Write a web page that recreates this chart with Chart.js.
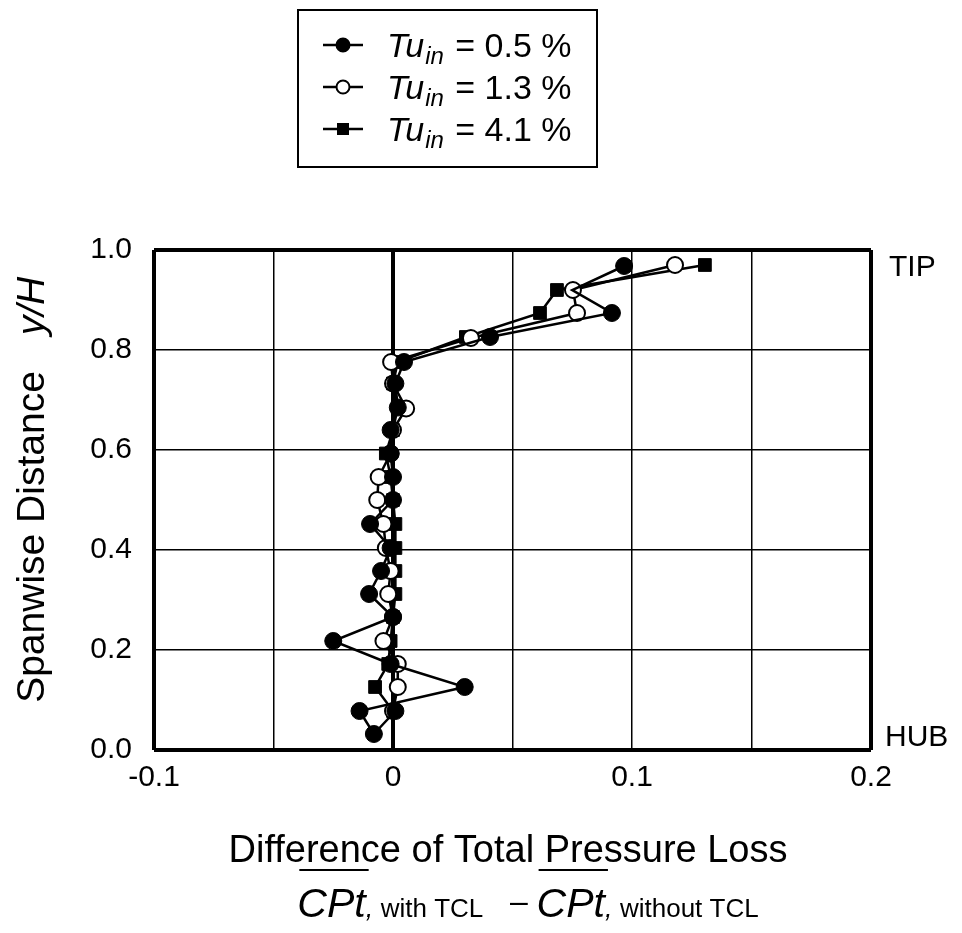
<!DOCTYPE html>
<html>
<head>
<meta charset="utf-8">
<script src="https://cdn.jsdelivr.net/npm/chart.js@4"></script>
<style>
  html, body { margin: 0; padding: 0; background: #fff; }
  #wrap { width: 962px; height: 933px; }
</style>
</head>
<body>
<div id="wrap"><canvas id="lossChart" width="962" height="933"></canvas></div>
<script>
// spanwise position y/H and loss difference for each inlet turbulence level
const spanLow = [0.968, 0.92, 0.874, 0.826, 0.776, 0.733, 0.685, 0.64, 0.593, 0.546, 0.5, 0.452, 0.404, 0.358, 0.312, 0.266, 0.218, 0.172, 0.126, 0.078, 0.032, 0.078];
const lossLow = [0.0967, 0.075, 0.0916, 0.0406, 0.0046, 0.001, 0.002, -0.001, -0.001, 0.0, 0.0, -0.0096, -0.001, -0.005, -0.010, 0.0, -0.025, -0.001, 0.030, -0.014, -0.008, 0.001];

const spanMid = [0.97, 0.92, 0.874, 0.824, 0.776, 0.733, 0.683, 0.64, 0.593, 0.546, 0.5, 0.452, 0.404, 0.358, 0.312, 0.266, 0.218, 0.172, 0.126, 0.078];
const lossMid = [0.118, 0.0753, 0.077, 0.0326, -0.0008, 0.0, 0.0055, 0.0, -0.001, -0.006, -0.0066, -0.004, -0.003, -0.001, -0.002, 0.0, -0.004, 0.002, 0.002, 0.0];

const spanHigh = [0.97, 0.92, 0.874, 0.826, 0.776, 0.733, 0.685, 0.64, 0.593, 0.546, 0.5, 0.452, 0.404, 0.358, 0.312, 0.266, 0.218, 0.172, 0.126, 0.078];
const lossHigh = [0.1305, 0.0686, 0.0615, 0.0305, 0.002, 0.0, 0.002, 0.0, -0.003, -0.001, 0.0, 0.001, 0.001, 0.001, 0.001, 0.0, -0.001, -0.002, -0.0075, 0.0];

const seriesNames = ['0.5 %', '1.3 %', '4.1 %'];
const xTickLabels = ['-0.1', '0', '0.1', '0.2'];
const yTickLabels = ['0.0', '0.2', '0.4', '0.6', '0.8', '1.0'];

const FONT = "'Liberation Sans', Arial, Helvetica, sans-serif";

function toPoints(xs, ys) {
    return xs.map((x, i) => ({ x: x, y: ys[i] }));
}

// legend, axis titles and TIP/HUB labels (mixed italic / subscript text)
const decor = {
    id: 'decor',
    afterDraw(chart) {
        const c = chart.ctx;
        c.save();
        c.fillStyle = '#000';
        c.strokeStyle = '#000';

        // legend box
        c.lineWidth = 2;
        c.strokeRect(298, 10, 299, 157);
        const rows = [45, 87, 129];
        rows.forEach((ry, i) => {
            c.lineWidth = 2.5;
            c.beginPath();
            c.moveTo(323, ry);
            c.lineTo(363, ry);
            c.stroke();
            if (i === 2) {
                c.fillRect(337, ry - 6, 12, 12);
            } else {
                c.beginPath();
                c.arc(343, ry, 6.5, 0, Math.PI * 2);
                c.fillStyle = i === 0 ? '#000' : '#fff';
                c.fill();
                c.lineWidth = 2;
                c.stroke();
                c.fillStyle = '#000';
            }
            let x = 387;
            c.textBaseline = 'alphabetic';
            c.textAlign = 'left';
            c.font = 'italic 34px ' + FONT;
            c.fillText('Tu', x, ry + 12);
            x += c.measureText('Tu').width + 1;
            c.font = 'italic 24px ' + FONT;
            c.fillText('in', x, ry + 19);
            x += c.measureText('in').width + 2;
            c.font = '34px ' + FONT;
            c.fillText(' = ' + seriesNames[i], x, ry + 12);
        });

        // TIP / HUB
        c.font = '30px ' + FONT;
        c.textAlign = 'left';
        c.fillText('TIP', 889, 276);
        c.fillText('HUB', 885, 746);

        // y axis title
        c.save();
        c.translate(44, 0);
        c.rotate(-Math.PI / 2);
        c.textAlign = 'center';
        c.font = '39px ' + FONT;
        c.fillText('Spanwise Distance', -537, 0);
        c.font = 'italic 39px ' + FONT;
        c.fillText('y/H', -306, 0);
        c.restore();

        // x axis title, line 1
        c.textAlign = 'center';
        c.font = '38px ' + FONT;
        c.fillText('Difference of Total Pressure Loss', 508, 862);

        // x axis title, line 2: CPt(with) - CPt(without)
        const parts = [
            { t: 'CPt', f: 'italic 41px ', over: true, dy: 0 },
            { t: ', ', f: 'italic 27px ', dy: 0 },
            { t: 'with TCL', f: '26px ', dy: 0 },
            { t: '   \u2013 ', f: '32px ', dy: -5 },
            { t: 'CPt', f: 'italic 41px ', over: true, dy: 0 },
            { t: ', ', f: 'italic 27px ', dy: 0 },
            { t: 'without TCL', f: '26px ', dy: 0 }
        ];
        let total = 0;
        parts.forEach(p => {
            c.font = p.f + FONT;
            p.w = c.measureText(p.t).width;
            total += p.w;
        });
        let px = 528 - total / 2;
        c.textAlign = 'left';
        const base = 917;
        parts.forEach(p => {
            c.font = p.f + FONT;
            c.fillText(p.t, px, base + p.dy);
            if (p.over) {
                c.lineWidth = 2;
                c.beginPath();
                c.moveTo(px + 2, 870);
                c.lineTo(px + p.w + 3, 870);
                c.stroke();
            }
            px += p.w;
        });

        c.restore();
    }
};

function edgeWidth(ctx, edges) {
    const v = Math.round(ctx.tick.value * 1000) / 1000;
    return edges.includes(v) ? 4 : 1.5;
}

const ctx = document.getElementById('lossChart').getContext('2d');

new Chart(ctx, {
    type: 'scatter',
    data: {
        datasets: [
            {
                label: 'Tu = ' + seriesNames[0],
                data: toPoints(lossLow, spanLow),
                showLine: true,
                borderColor: '#000',
                borderWidth: 2.5,
                pointStyle: 'circle',
                // the 0.92 point is hidden under the open marker in the original
                pointRadius: c => (c.dataIndex === 1 ? 0 : 8.5),
                pointBackgroundColor: '#000',
                pointBorderColor: '#000',
                pointBorderWidth: 1,
                tension: 0
            },
            {
                label: 'Tu = ' + seriesNames[1],
                data: toPoints(lossMid, spanMid),
                showLine: true,
                borderColor: '#000',
                borderWidth: 2.5,
                pointStyle: 'circle',
                pointRadius: 8,
                pointBackgroundColor: '#fff',
                pointBorderColor: '#000',
                pointBorderWidth: 2,
                tension: 0
            },
            {
                label: 'Tu = ' + seriesNames[2],
                data: toPoints(lossHigh, spanHigh),
                showLine: true,
                borderColor: '#000',
                borderWidth: 2.5,
                pointStyle: 'rect',
                pointRadius: 9,
                pointBackgroundColor: '#000',
                pointBorderColor: '#000',
                pointBorderWidth: 1,
                tension: 0
            }
        ]
    },
    options: {
        responsive: false,
        animation: false,
        events: [],
        layout: {
            padding: { left: 64, right: 91, top: 250, bottom: 133 }
        },
        plugins: {
            legend: { display: false },
            tooltip: { enabled: false }
        },
        scales: {
            x: {
                type: 'linear',
                min: -0.1,
                max: 0.2,
                afterFit: s => { s.height = 50; },
                border: { display: false },
                grid: {
                    color: '#000',
                    drawTicks: false,
                    lineWidth: c => edgeWidth(c, [-0.1, 0, 0.2])
                },
                ticks: {
                    stepSize: 0.05,
                    padding: 10,
                    color: '#000',
                    maxRotation: 0,
                    autoSkip: false,
                    font: { family: FONT, size: 30 },
                    callback: v => {
                        const k = Math.round(v * 100);
                        return k % 10 === 0 ? xTickLabels[(k + 10) / 10] : '';
                    }
                }
            },
            y: {
                type: 'linear',
                min: 0,
                max: 1,
                afterFit: s => { s.width = 90; },
                border: { display: false },
                grid: {
                    color: '#000',
                    drawTicks: false,
                    lineWidth: c => edgeWidth(c, [0, 1])
                },
                ticks: {
                    stepSize: 0.2,
                    padding: 22,
                    color: '#000',
                    autoSkip: false,
                    font: { family: FONT, size: 30 },
                    callback: v => yTickLabels[Math.round(v * 5)]
                }
            }
        }
    },
    plugins: [decor]
});
</script>
</body>
</html>
